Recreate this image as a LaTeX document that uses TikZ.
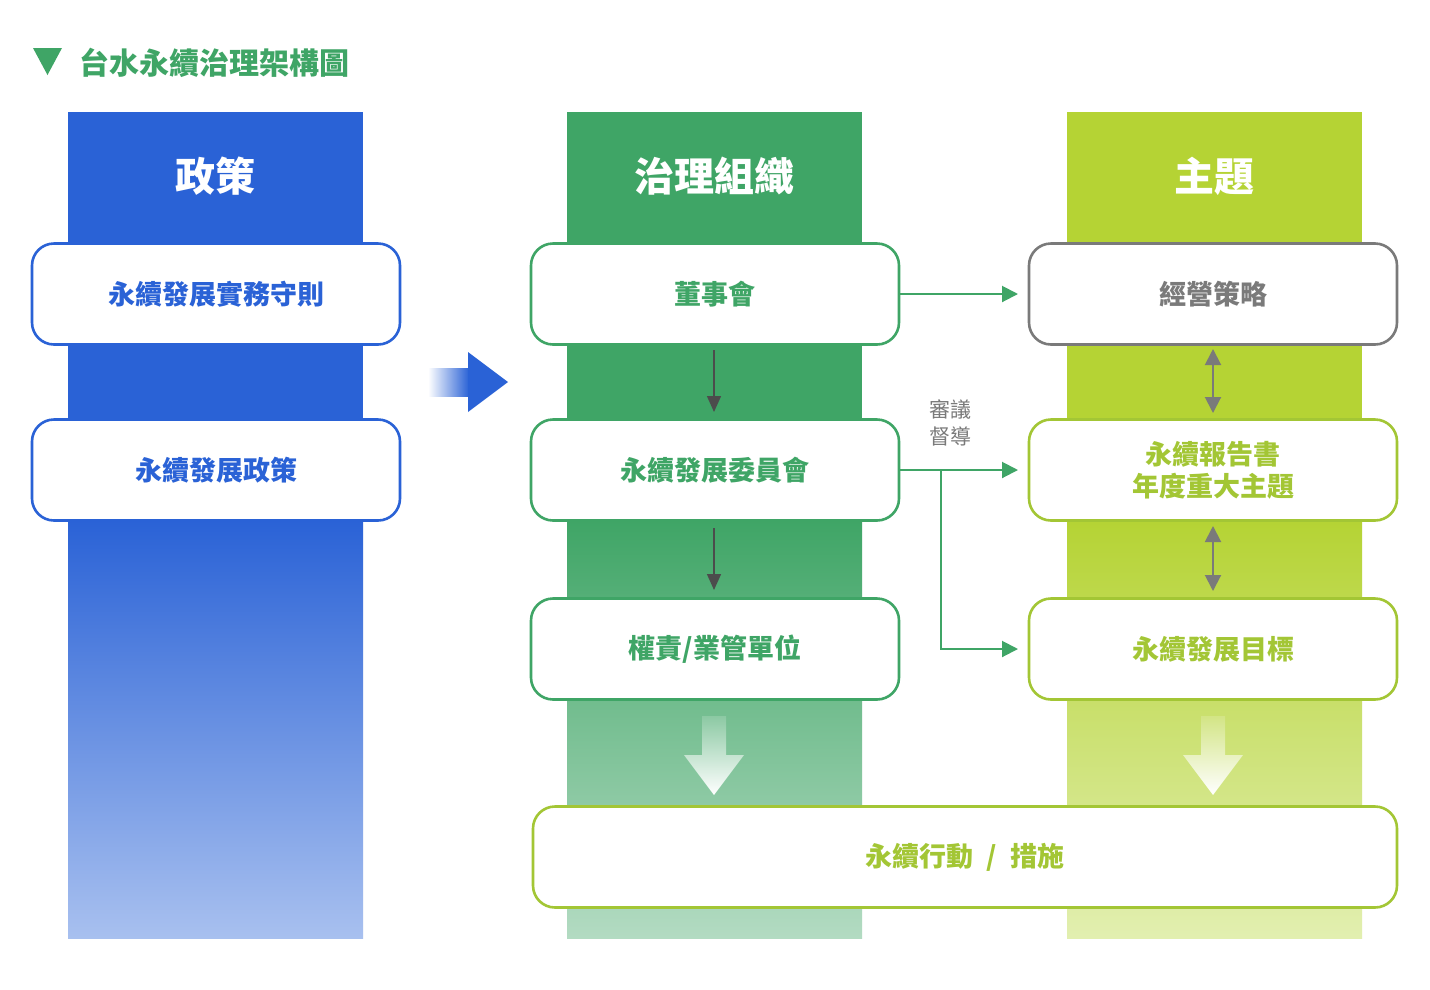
\documentclass[tikz,border=0pt]{standalone}
\usepackage{fontspec}
\setmainfont{Noto Sans CJK TC}
\usetikzlibrary{arrows.meta}
\definecolor{cblue}{HTML}{2A62D6}
\definecolor{cblueL}{HTML}{A8C0EF}
\definecolor{cgreen}{HTML}{3FA566}
\definecolor{cgreenL}{HTML}{B3DBC2}
\definecolor{clime}{HTML}{B5D334}
\definecolor{climeL}{HTML}{E2EFB0}
\definecolor{ctxtlime}{HTML}{A3C635}
\definecolor{cgray}{HTML}{7A7A7A}
\begin{document}
\begin{tikzpicture}[x=1pt,y=-1pt,
 box/.style={draw,line width=2.6pt,fill=white,rounded corners=22pt,minimum width=368pt,minimum height=101pt,font=\fontsize{27}{32}\selectfont\bfseries,align=center,inner sep=0pt},
 hdr/.style={text=white,font=\fontsize{40}{44}\selectfont\bfseries},
 conn/.style={draw=cgreen,line width=2pt,-{Triangle[length=16pt,width=16pt]}},
 down/.style={draw=black!70,line width=1.5pt,-{Triangle[length=16pt,width=14pt]}},
 dbl/.style={draw=cgray,line width=2pt,{Triangle[length=16pt,width=16pt]}-{Triangle[length=16pt,width=16pt]}}]
\useasboundingbox (0,0) rectangle (1430,989);
\fill[white] (0,0) rectangle (1430,989);
% title
\fill[cgreen] (33,48) -- (62,48) -- (47.5,75) -- cycle;
\node[anchor=west,text=cgreen,font=\fontsize{30}{34}\selectfont\bfseries] (title) at (76,63) {台水永續治理架構圖};
% columns
\fill[cblue] (68,112) rectangle (363,521);
\shade[top color=cblue,bottom color=cblueL] (68,520) rectangle (363,938);
\fill[cgreen] (567,112) rectangle (862,521);
\shade[top color=cgreen,bottom color=cgreenL] (567,520) rectangle (862,938);
\fill[clime] (1067,112) rectangle (1362,521);
\shade[top color=clime,bottom color=climeL] (1067,520) rectangle (1362,938);
\node[hdr] (h1) at (215.5,176) {政策};
\node[hdr] (h2) at (714.5,176) {治理組織};
\node[hdr] (h3) at (1214.5,176) {主題};
% blue arrow
\shade[left color=white,right color=cblue] (428,368) rectangle (469,396);
\fill[cblue] (468,352) -- (508,382) -- (468,412) -- cycle;
% big down arrows
\shade[top color=cgreen!60!white,bottom color=white] (702,716) -- (726,716) -- (726,755) -- (744,755) -- (714,795) -- (684,755) -- (702,755) -- cycle;
\shade[top color=clime!60!white,bottom color=white] (1201,716) -- (1225,716) -- (1225,755) -- (1243,755) -- (1213,795) -- (1183,755) -- (1201,755) -- cycle;
% boxes
\node[box,draw=cblue,text=cblue] (p1) at (216,294) {永續發展實務守則};
\node[box,draw=cblue,text=cblue] (p2) at (216,470) {永續發展政策};
\node[box,draw=cgreen,text=cgreen] (g1) at (715,294) {董事會};
\node[box,draw=cgreen,text=cgreen] (g2) at (715,470) {永續發展委員會};
\node[box,draw=cgreen,text=cgreen] (g3) at (715,649) {權責/業管單位};
\node[box,draw=cgray,text=cgray] (t1) at (1213,294) {經營策略};
\node[box,draw=ctxtlime,text=ctxtlime] (t2) at (1213,470) {永續報告書\\年度重大主題};
\node[box,draw=ctxtlime,text=ctxtlime] (t3) at (1213,649) {永續發展目標};
\node[box,draw=ctxtlime,text=ctxtlime,minimum width=864pt] (act) at (965,857) {永續行動\hspace{0.5em}/\hspace{0.5em}措施};
% connectors
\draw[conn] (g1.east) -- (t1.west -| 1018,0);
\draw[conn] (g2.east) -- (1018,470);
\coordinate (br) at (941,470);
\draw[conn] (br) |- (1018,649);
\node[text=cgray,font=\fontsize{21}{27}\selectfont,align=center] (lbl) at (950,423) {審議\\督導};
\draw[down] (714,350) -- (714,412);
\draw[down] (714,528) -- (714,590);
\draw[dbl] (1213,349) -- (1213,413);
\draw[dbl] (1213,526) -- (1213,591);
\end{tikzpicture}
\end{document}
